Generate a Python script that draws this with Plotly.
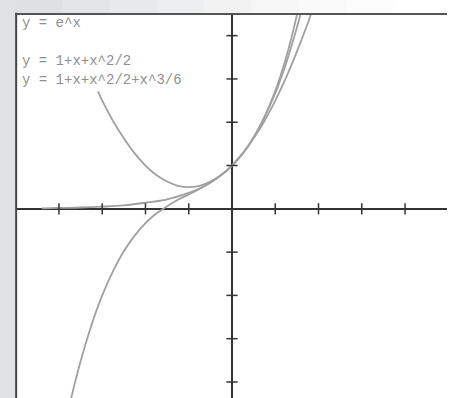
import plotly.graph_objects as go

# curve samples
exp_x = [-4.4, -4, -3.5, -3, -2.5, -2, -1.5, -1, -0.75, -0.5, -0.25, 0, 0.25, 0.5, 0.75, 1.0, 1.25, 1.5, 1.75]
exp_y = [0.01, 0.02, 0.03, 0.05, 0.08, 0.14, 0.22, 0.37, 0.47, 0.61, 0.78, 1.0, 1.28, 1.65, 2.12, 2.72, 3.49, 4.48, 5.75]

quad_x = [-3.1, -3, -2.75, -2.5, -2.25, -2, -1.75, -1.5, -1.25, -1, -0.75, -0.5, -0.25, 0, 0.25, 0.5, 0.75, 1, 1.25, 1.5, 1.75, 2]
quad_y = [2.71, 2.5, 2.03, 1.63, 1.28, 1.0, 0.78, 0.63, 0.53, 0.5, 0.53, 0.63, 0.78, 1.0, 1.28, 1.63, 2.03, 2.5, 3.03, 3.63, 4.28, 5.0]

cub_x = [-4, -3.75, -3.5, -3.25, -3, -2.75, -2.5, -2.25, -2, -1.75, -1.5, -1.25, -1, -0.75, -0.5, -0.25, 0, 0.25, 0.5, 0.75, 1, 1.25, 1.5, 1.75]
cub_y = [-5.67, -4.51, -3.52, -2.69, -2.0, -1.44, -0.98, -0.62, -0.33, -0.11, 0.06, 0.21, 0.33, 0.46, 0.6, 0.78, 1.0, 1.28, 1.65, 2.12, 2.67, 3.36, 4.19, 5.11]

tick_vals = [-4, -3, -2, -1, 1, 2, 3, 4]
labels = ["y = e^x", "y = 1+x+x^2/2", "y = 1+x+x^2/2+x^3/6"]

curve_col = "#a0a0a0"
fig = go.Figure()
for xs, ys in [(exp_x, exp_y), (quad_x, quad_y), (cub_x, cub_y)]:
    fig.add_trace(go.Scatter(x=xs, y=ys, mode="lines", line=dict(color=curve_col, width=1.8, shape="spline"),
                             hoverinfo="skip"))

# tick marks on the axes through the origin
fig.add_trace(go.Scatter(x=tick_vals, y=[0] * len(tick_vals), mode="markers",
                         marker=dict(symbol="line-ns-open", size=8, color="#333", line=dict(color="#333", width=1.5))))
fig.add_trace(go.Scatter(x=[0] * len(tick_vals), y=tick_vals, mode="markers",
                         marker=dict(symbol="line-ew-open", size=8, color="#333", line=dict(color="#333", width=1.5))))

shapes = [dict(type="rect", xref="paper", yref="paper", x0=-0.05, x1=-0.0047, y0=-0.1, y1=1.1,
               fillcolor="#dfe1e4", line_width=0, layer="below")]
# top band fading from grey to white
greys = ["#dfe0e2", "#e3e4e6", "#e8e9ea", "#edeeef", "#f2f2f3", "#f6f6f7", "#fafafa", "#fdfdfd"]
for i, g in enumerate(greys):
    shapes.append(dict(type="rect", xref="paper", yref="paper", x0=-0.0047 + i * 0.11, x1=-0.0047 + (i + 1) * 0.11 + 0.002,
                       y0=1.0026, y1=1.05, fillcolor=g, line_width=0, layer="below"))
shapes.append(dict(type="line", xref="paper", yref="paper", x0=-0.002, x1=-0.002, y0=-0.1, y1=1.003,
                   line=dict(color="#444", width=2)))
shapes.append(dict(type="line", xref="paper", yref="paper", x0=-0.004, x1=1.0, y0=1.0, y1=1.0,
                   line=dict(color="#555", width=2)))

annotations = []
for lab, yy in zip(labels, [0.977, 0.878, 0.828]):
    annotations.append(dict(text=lab, xref="paper", yref="paper", x=0.006, y=yy, xanchor="left", yanchor="middle",
                            showarrow=False, font=dict(family="Liberation Mono", size=14, color="#909090")))

fig.update_layout(
    width=457, height=398, showlegend=False,
    margin=dict(l=17, r=10, t=14, b=0),
    paper_bgcolor="white", plot_bgcolor="white",
    shapes=shapes, annotations=annotations,
    xaxis=dict(range=[-4.97, 4.97], showgrid=False, showticklabels=False, ticks="",
               zeroline=True, zerolinecolor="#333", zerolinewidth=1.5),
    yaxis=dict(range=[-4.37, 4.5], showgrid=False, showticklabels=False, ticks="",
               zeroline=True, zerolinecolor="#333", zerolinewidth=1.5),
)
fig.write_html("out.html", config={"displayModeBar": False},
               post_script="document.body.style.margin='0';")
